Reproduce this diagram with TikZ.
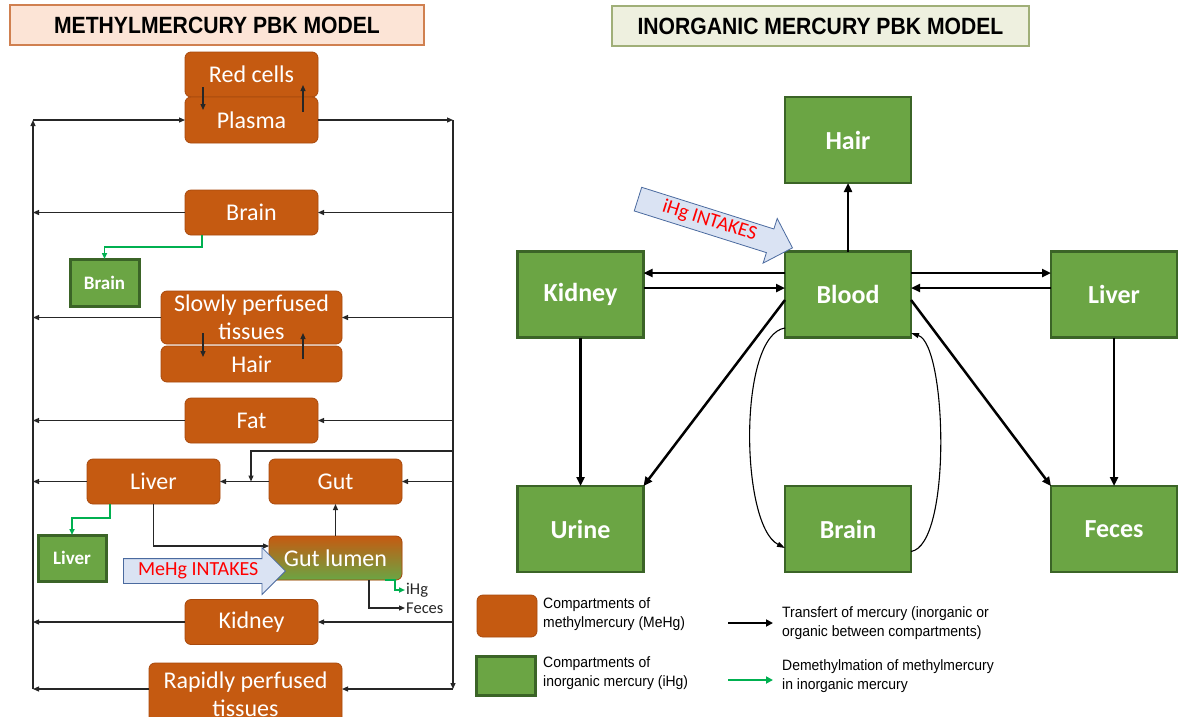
\documentclass[tikz,border=0pt]{standalone}
\usepackage{fontspec}
\usetikzlibrary{arrows.meta,shapes.arrows,calc}
\newfontfamily\carlito{Carlito}
\newfontfamily\ttlfont[FakeStretch=0.9]{Liberation Sans}
\newfontfamily\legfont[FakeStretch=0.93]{Liberation Sans}
\definecolor{meF}{HTML}{C55A11}
\definecolor{meB}{HTML}{A8490D}
\definecolor{greenF}{HTML}{6BA544}
\definecolor{greenB}{HTML}{3B6427}
\definecolor{arrG}{HTML}{00B050}
\definecolor{inF}{HTML}{DAE3F3}
\definecolor{inB}{HTML}{4A6A9F}
\definecolor{tLF}{HTML}{FCE4D6}
\definecolor{tLB}{HTML}{D08050}
\definecolor{tRF}{HTML}{EEF0DF}
\definecolor{tRB}{HTML}{A0AF78}
\begin{document}
\begin{tikzpicture}[x=1pt,y=-1pt,
  me/.style={draw=meB, fill=meF, line width=0.8pt, rounded corners=6pt, minimum width=133pt, minimum height=45pt, inner sep=0pt, outer sep=0pt, text=white, align=center, font=\carlito\fontsize{24}{28}\selectfont},
  ib/.style={draw=greenB, fill=greenF, line width=3pt, minimum width=69pt, minimum height=47pt, inner sep=0pt, outer sep=0pt, text=white, font=\carlito\bfseries\fontsize{19}{22}\selectfont},
  ig/.style={draw=greenB, fill=greenF, line width=2.5pt, minimum width=126pt, minimum height=86pt, inner sep=0pt, outer sep=0pt, text=white, font=\carlito\bfseries\fontsize{26}{30}\selectfont},
  ttl/.style={line width=1.5pt, minimum height=40pt, inner sep=0pt, font=\ttlfont\bfseries\fontsize{23.5}{28}\selectfont},
  arr/.style={line width=1.2pt, draw=black!85, -{Triangle[length=6pt,width=5pt]}},
  garr/.style={line width=1.6pt, draw=arrG, -{Triangle[length=6pt,width=5pt]}},
  tarr/.style={line width=2.5pt, -{Triangle[length=9pt,width=8pt]}},
  carr/.style={line width=1.1pt, -{Triangle[length=8pt,width=5pt]}},
  intake/.style={single arrow, draw=inB, fill=inF, line width=0.8pt, text=red, font=\carlito\fontsize{20}{20}\selectfont, minimum height=162pt, single arrow head extend=11pt, inner xsep=3pt, inner ysep=3.5pt, text height=13pt, text depth=4pt},
  small/.style={inner sep=1pt, anchor=west, font=\carlito\fontsize{16.5}{17}\selectfont},
  leg/.style={anchor=west, align=left, inner sep=0pt, font=\legfont\fontsize{15}{19.5}\selectfont}
]
\clip (0,0) rectangle (1178,716);
\fill[white] (0,0) rectangle (1178,716);

% ---------- titles ----------
\node[ttl, draw=tLB, fill=tLF, minimum width=414pt] (titleL) at (217,25) {METHYLMERCURY PBK MODEL};
\node[ttl, draw=tRB, fill=tRF, minimum width=417pt] (titleR) at (820.5,26) {INORGANIC MERCURY PBK MODEL};

% ---------- left panel ----------
\coordinate (Ltop) at (33,120);
\coordinate (Lbot) at (33,689);
\coordinate (Rtop) at (453,120);
\coordinate (Rbot) at (453,689);
\coordinate (gj) at (251,451);

\node[me] (redcells) at (251.5,74.5) {Red cells};
\node[me, minimum height=46pt] (plasma) at (251.5,120) {Plasma};
\node[me] (brain) at (251.5,212.5) {Brain};
\node[me, minimum width=181pt, minimum height=53pt] (slowly) at (251.5,317.5) {Slowly perfused\\tissues};
\node[me, minimum width=181pt, minimum height=36pt] (hair) at (251.5,364) {Hair};
\node[me] (fat) at (251.5,420.5) {Fat};
\node[me] (liver) at (153.5,481.5) {Liver};
\node[me] (gut) at (335.5,481.5) {Gut};
\node[me, top color=meF, bottom color=greenF, minimum height=44pt] (gutlumen) at (335.5,558) {Gut lumen};
\node[me] (kidney) at (251.5,622) {Kidney};
\node[me, minimum width=193pt, minimum height=62pt] (rapid) at (245.5,694) {Rapidly perfused\\tissues};

\node[ib] (brainI) at (104.5,282.5) {Brain};
\node[ib, minimum width=68pt, minimum height=46pt] (liverI) at (72,558) {Liver};

% internal exchange arrows
\draw[arr] ($(redcells.south)+(-48.5,-10)$) -- ($(redcells.south)+(-48.5,13)$);
\draw[arr] ($(redcells.south)+(51.5,15)$) -- ($(redcells.south)+(51.5,-12)$);
\draw[arr] ($(slowly.south)+(-48.5,-11)$) -- ($(slowly.south)+(-48.5,13)$);
\draw[arr] ($(slowly.south)+(51.5,15)$) -- ($(slowly.south)+(51.5,-11)$);

% circulation
\draw[arr] (Lbot) -- (Ltop);
\draw[arr] (Ltop) -- (plasma.west);
\draw[arr] (plasma.east) -- (Rtop);
\draw[arr] (Rtop) -- (Rbot);

\draw[arr] (brain.east -| Rtop) -- (brain.east);
\draw[arr] (brain.west) -- (brain.west -| Ltop);
\draw[arr] (slowly.east -| Rtop) -- (slowly.east);
\draw[arr] (slowly.west) -- (slowly.west -| Ltop);
\draw[arr] (fat.east -| Rtop) -- (fat.east);
\draw[arr] (fat.west) -- (fat.west -| Ltop);
\draw[arr] (gut.east -| Rtop) -- (gut.east);
\draw[arr] (gut.west) -- (liver.east);
\draw[arr] (liver.west) -- (liver.west -| Ltop);
\draw[arr] (gj -| Rtop) -- (gj) -- (gj |- gut.west);
\draw[arr] (kidney.east -| Rtop) -- (kidney.east);
\draw[arr] (kidney.west) -- (kidney.west -| Ltop);
\draw[arr] (Rbot) -- (Rbot -| rapid.east);
\draw[arr] (rapid.west |- Lbot) -- (Lbot);

\draw[arr] (liver.south) |- ([yshift=12pt]gutlumen.west);
\draw[arr] (gutlumen.north) -- (gut.south);

\node[small, text=black!85] (fecesT) at (405,608) {Feces};
\node[small, text=black!85] (ihgT) at (405,590) {iHg};
\draw[arr] ([xshift=33.5pt]gutlumen.south) |- (fecesT.west);
\draw[garr] ([xshift=49.5pt]gutlumen.south) -| ($(ihgT.west)+(-10,0)$) -- (ihgT.west);

% demethylation
\draw[garr] ([xshift=-49.5pt]brain.south) -- ++(0,12) -| (brainI.north);
\draw[garr] ([xshift=-43.5pt]liver.south) -- ++(0,14) -| (liverI.north);

% MeHg intake
\node[intake, anchor=tip] (meintake) at (286,571) {MeHg INTAKES};

% ---------- right panel ----------
\node[ig] (hairR) at (848,140) {Hair};
\node[ig] (kidneyR) at (580.5,294.5) {Kidney};
\node[ig] (bloodR) at (848,294.5) {Blood};
\node[ig] (liverR) at (1114,294.5) {Liver};
\node[ig] (urineR) at (580.5,529) {Urine};
\node[ig] (brainR) at (848,529) {Brain};
\node[ig] (fecesR) at (1114,529) {Feces};

\draw[tarr] (bloodR.north) -- (hairR.south);
\draw[tarr] ([yshift=21.5pt]bloodR.west) -- ([yshift=21.5pt]kidneyR.east);
\draw[tarr] ([yshift=6.5pt]kidneyR.east) -- ([yshift=6.5pt]bloodR.west);
\draw[tarr] ([yshift=21.5pt]bloodR.east) -- ([yshift=21.5pt]liverR.west);
\draw[tarr] ([yshift=6.5pt]liverR.west) -- ([yshift=6.5pt]bloodR.east);
\draw[tarr] (kidneyR.south) -- (urineR.north);
\draw[tarr] ([yshift=-5.5pt]bloodR.west) -- (urineR.north east);
\draw[tarr] ([yshift=-5.5pt]bloodR.east) -- (fecesR.north west);
\draw[tarr] (liverR.south) -- (fecesR.north);
\draw[carr] ([yshift=-33.5pt]bloodR.west) .. controls (738,335) and (740,525) .. ([yshift=-19pt]brainR.west);
\draw[carr] ([yshift=-22.5pt]brainR.east) .. controls (952,545) and (947,345) .. ([yshift=-38.5pt]bloodR.east);

\node[intake, anchor=tip, rotate=-17.5] (ihgintake) at (793,248) {iHg INTAKES};

% ---------- legend ----------
\node[me, minimum width=60pt, minimum height=42pt] (legMe) at (507,616) {};
\node[ib, minimum width=59pt, minimum height=39pt] (legI) at (505.5,675.5) {};
\node[leg] (legMeT) at (543,614) {Compartments of\\methylmercury (MeHg)};
\node[leg] (legIT) at (543,673) {Compartments of\\inorganic mercury (iHg)};
\coordinate (lb1) at (728,623);
\coordinate (lb2) at (773,623);
\coordinate (lg1) at (728,680);
\coordinate (lg2) at (773,680);
\draw[line width=2.5pt, -{Triangle[length=7pt,width=7pt]}] (lb1) -- (lb2);
\draw[line width=2.5pt, draw=arrG, -{Triangle[length=7pt,width=7pt]}] (lg1) -- (lg2);
\node[leg] (legTT) at (782,623) {Transfert of mercury (inorganic or\\organic between compartments)};
\node[leg] (legDT) at (782,676) {Demethylmation of methylmercury\\in inorganic mercury};
\end{tikzpicture}
\end{document}
